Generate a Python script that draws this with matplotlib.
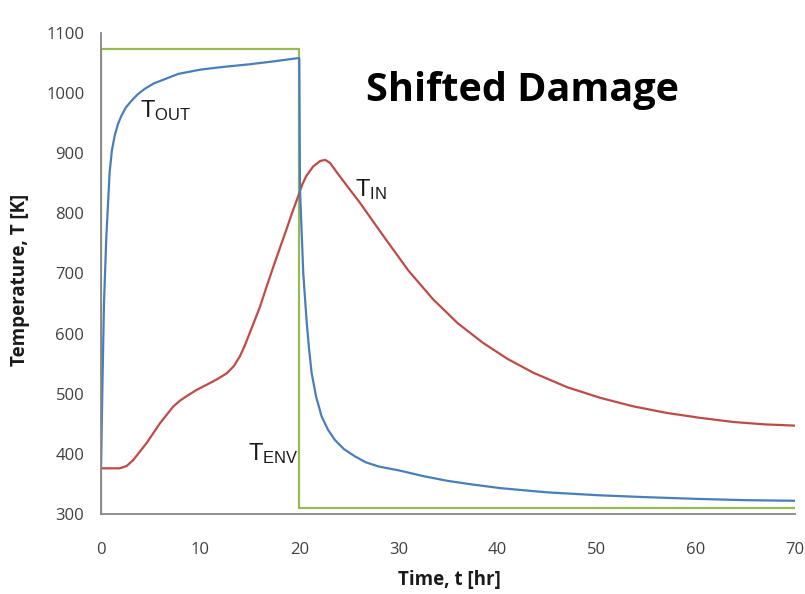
import matplotlib.pyplot as plt
import numpy as np

# -----------------------------
# DATA
# -----------------------------
t_env = [0, 0, 20, 20, 70]
T_env = [300, 1073, 1073, 310, 310]

t_out = [0, 0.15, 0.3, 0.54, 0.87, 1.1, 1.38, 1.7, 2.05, 2.5, 3.06, 3.7, 4.4, 5.3, 6.4, 7.8, 10, 12, 15,
         17.5, 19.75, 20,
         20.07, 20.4, 20.75, 21.0, 21.25, 21.7, 22.26, 22.9, 23.6, 24.5, 25.6, 26.7, 28.0, 30.2, 32.5,
         35, 37.5, 40.3, 45, 50.4, 55, 60.4, 65, 70]
T_out = [375, 520, 650, 762, 868, 905, 929, 948, 962, 976, 987, 998, 1007, 1016, 1023, 1032, 1039, 1043, 1048,
         1053, 1058, 1058,
         840, 701, 618, 572, 534, 495, 462, 440, 423, 408, 396, 386, 379, 372, 363,
         355, 349, 343, 336, 331, 328, 325, 323, 322]

t_in = [0, 1.9, 2.6, 3.26, 4.6, 5.95, 7.3, 8.0, 8.64, 9.6, 10.66, 11.7, 12.68, 13.4, 14.0, 14.5, 15.0,
        16.0, 16.7, 17.4, 18.1, 18.7, 19.3, 19.9, 20.3, 20.7, 21.4, 22.1, 22.6, 23.1, 23.8, 24.8, 26.1,
        28.5, 31, 33.5, 36, 38.5, 41, 43.6, 47, 50.4, 53.7, 57.1, 60.4, 63.8, 67, 70]
T_in = [376, 376, 380, 390, 418, 451, 479, 489, 496, 506, 515, 524, 534, 546, 562, 580, 601,
        643, 678, 712, 745, 773, 802, 829, 848, 862, 878, 887, 889, 884, 868, 846, 818,
        762, 705, 657, 617, 585, 558, 535, 511, 493, 479, 468, 460, 453, 449, 447]

x_ticks = [0, 10, 20, 30, 40, 50, 60, 70]
y_ticks = [300, 400, 500, 600, 700, 800, 900, 1000, 1100]

BLUE = "#4A7EBB"
RED = "#BE4B48"
GREEN = "#98B954"
AXIS = "#868686"
TICK = "#404040"

# -----------------------------
# FIGURE
# -----------------------------
fig = plt.figure(figsize=(8.05, 5.94), dpi=100)
ax = fig.add_axes([101 / 805, 1 - 514 / 594, 694 / 805, 481 / 594])

ax.plot(t_env, T_env, color=GREEN, lw=1.6, solid_joinstyle="miter")
ax.plot(t_in, T_in, color=RED, lw=1.6, solid_joinstyle="round")
ax.plot(t_out, T_out, color=BLUE, lw=1.6, solid_joinstyle="round")

ax.set_xlim(0, 70)
ax.set_ylim(300, 1100)
ax.set_xticks(x_ticks)
ax.set_yticks(y_ticks)

for side in ["top", "right"]:
    ax.spines[side].set_visible(False)
for side in ["left", "bottom"]:
    ax.spines[side].set_color(AXIS)
    ax.spines[side].set_linewidth(1.3)

ax.tick_params(axis="both", length=0, labelsize=12, labelcolor=TICK)
ax.tick_params(axis="y", pad=12)
ax.tick_params(axis="x", pad=20)
for lab in ax.get_xticklabels() + ax.get_yticklabels():
    lab.set_family("Open Sans")

# curve labels
lab_kw = dict(fontsize=17, color="#1a1a1a", family="Liberation Sans", ha="left", va="baseline")
ax.text(3.9, 960, r"$\mathregular{T_{OUT}}$", **lab_kw)
ax.text(25.6, 828, r"$\mathregular{T_{IN}}$", **lab_kw)
ax.text(14.8, 390, r"$\mathregular{T_{ENV}}$", **lab_kw)

# title inside the plot
fig.text(522 / 805, 1 - 90 / 594, "Shifted Damage", fontsize=28.5, fontweight="bold",
         family="Open Sans", ha="center", va="center", color="black")

# axis titles
fig.text(449 / 805, 1 - 580 / 594, "Time, t [hr]", fontsize=13.5, fontweight="bold",
         family="Open Sans", ha="center", va="center", color="#1a1a1a")
fig.text(20 / 805, 1 - 280 / 594, "Temperature, T [K]", fontsize=13.5, fontweight="bold",
         family="Open Sans", ha="center", va="center", rotation=90, color="#1a1a1a")

fig.savefig("out.png", dpi=100)
